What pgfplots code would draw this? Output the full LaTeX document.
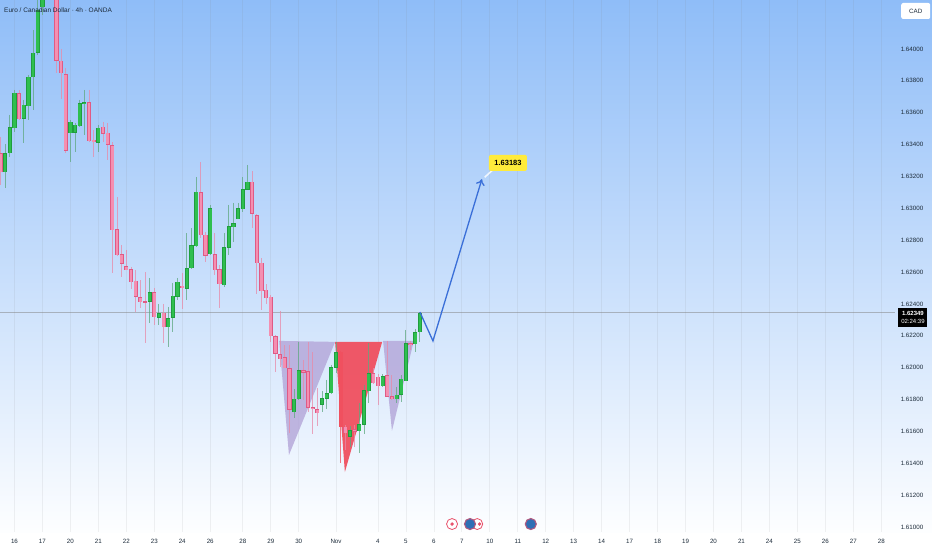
\documentclass[border=0pt]{standalone}
\usepackage{fontspec}
\setmainfont{Liberation Sans}
\usepackage{pgfplots}
\usepackage{pgfplotstable}
\pgfplotsset{compat=1.18}
\usetikzlibrary{arrows.meta}

\definecolor{bullfill}{HTML}{2FBF4F}
\definecolor{bulledge}{HTML}{1F9E3E}
\definecolor{bullwick}{HTML}{5FA880}
\definecolor{bearfill}{HTML}{F48FB1}
\definecolor{bearedge}{HTML}{E05A85}
\definecolor{bearwick}{HTML}{E88AA8}
\definecolor{harmpurple}{HTML}{B3A5D8}
\definecolor{harmred}{HTML}{F0505F}
\definecolor{arrowblue}{HTML}{3A6FD8}
\definecolor{calloutyellow}{HTML}{FFEB3B}
\definecolor{evred}{HTML}{E8506A}
\definecolor{evblue}{HTML}{2F6FB5}
\definecolor{labelink}{HTML}{1C2B3A}
\definecolor{bgtop}{HTML}{8FBDF8}
\definecolor{bgbottom}{HTML}{FDFEFF}

% 4h candles, EUR/CAD: bar index, open, high, low, close
\pgfplotstableread{
i o h l c
1 1.63228 1.63404 1.63128 1.63347
2 1.63347 1.63586 1.63322 1.63511
3 1.63504 1.63743 1.63479 1.63724
5 1.63561 1.63680 1.63410 1.63649
6 1.63642 1.63837 1.63554 1.63824
7 1.63824 1.64119 1.63617 1.63975
8 1.63975 1.64350 1.63960 1.64245
9 1.64264 1.64450 1.64213 1.64400
15 1.63473 1.63554 1.63291 1.63542
16 1.63473 1.63536 1.63354 1.63523
17 1.63517 1.63680 1.63511 1.63661
18 1.63655 1.63743 1.63460 1.63667
21 1.63410 1.63523 1.63354 1.63504
32 1.62418 1.62563 1.62280 1.62475
34 1.62318 1.62400 1.62268 1.62343
36 1.62255 1.62381 1.62130 1.62312
37 1.62312 1.62532 1.62224 1.62450
38 1.62444 1.62563 1.62425 1.62538
40 1.62500 1.62845 1.62425 1.62625
41 1.62625 1.62876 1.62620 1.62770
42 1.62764 1.63197 1.62760 1.63103
45 1.62713 1.63021 1.62710 1.63002
48 1.62519 1.62845 1.62506 1.62757
49 1.62757 1.63021 1.62707 1.62889
50 1.62883 1.63034 1.62789 1.62908
51 1.62933 1.63034 1.62930 1.63002
52 1.62996 1.63197 1.62977 1.63122
53 1.63115 1.63272 1.63112 1.63165
63 1.61722 1.61866 1.61684 1.61804
64 1.61804 1.62162 1.61800 1.61986
69 1.61772 1.61854 1.61722 1.61810
70 1.61810 1.61923 1.61741 1.61841
71 1.61841 1.62017 1.61838 1.62004
72 1.62004 1.62162 1.61967 1.62098
75 1.61571 1.61634 1.61502 1.61609
77 1.61603 1.61778 1.61465 1.61647
78 1.61647 1.61891 1.61584 1.61860
79 1.61854 1.62155 1.61778 1.61967
82 1.61885 1.61960 1.61879 1.61948
85 1.61804 1.61879 1.61778 1.61829
86 1.61829 1.61954 1.61785 1.61929
87 1.61916 1.62237 1.61916 1.62155
89 1.62149 1.62243 1.62098 1.62224
90 1.62224 1.62349 1.62162 1.62343
}\bulltable

\pgfplotstableread{
i o h l c
0 1.63347 1.63448 1.63147 1.63228
4 1.63724 1.63743 1.63554 1.63561
12 1.64400 1.64450 1.63849 1.63925
13 1.63925 1.64000 1.63686 1.63849
14 1.63843 1.63881 1.63347 1.63366
19 1.63667 1.63743 1.63416 1.63423
20 1.63429 1.63492 1.63322 1.63416
22 1.63511 1.63542 1.63416 1.63467
23 1.63473 1.63536 1.63303 1.63398
24 1.63398 1.63416 1.62594 1.62864
25 1.62870 1.63071 1.62700 1.62707
26 1.62713 1.62770 1.62569 1.62651
27 1.62638 1.62739 1.62610 1.62613
28 1.62619 1.62632 1.62494 1.62538
29 1.62544 1.62613 1.62349 1.62444
30 1.62444 1.62550 1.62374 1.62412
31 1.62418 1.62600 1.62155 1.62412
33 1.62475 1.62500 1.62268 1.62318
35 1.62343 1.62400 1.62155 1.62255
39 1.62513 1.62594 1.62368 1.62500
43 1.63103 1.63291 1.62814 1.62833
44 1.62833 1.62852 1.62663 1.62701
46 1.62713 1.62845 1.62582 1.62613
47 1.62619 1.62644 1.62374 1.62525
54 1.63165 1.63234 1.62876 1.62965
55 1.62958 1.62962 1.62462 1.62657
56 1.62657 1.62688 1.62362 1.62481
57 1.62488 1.62525 1.62400 1.62437
58 1.62444 1.62456 1.62162 1.62199
59 1.62199 1.62205 1.61973 1.62092
60 1.62086 1.62356 1.62004 1.62055
61 1.62067 1.62142 1.61995 1.61998
62 1.61998 1.62142 1.61590 1.61741
65 1.61986 1.62048 1.61797 1.61973
66 1.61979 1.62162 1.61722 1.61753
67 1.61753 1.62098 1.61584 1.61741
68 1.61741 1.61872 1.61634 1.61716
74 1.61628 1.61640 1.61484 1.61590
76 1.61615 1.61640 1.61502 1.61597
80 1.61967 1.61998 1.61898 1.61904
81 1.61942 1.61960 1.61766 1.61885
83 1.61954 1.62168 1.61816 1.61822
84 1.61822 1.61954 1.61797 1.61804
88 1.62155 1.62168 1.62111 1.62142
}\beartable

% the long bar at the pattern low, drawn in the triangle's red
\pgfplotstableread{
i o h l c
73 1.62098 1.62105 1.61402 1.61628
}\redtable

\pgfplotsset{
  wick/.style={draw=none, mark=none, forget plot, error bars/.cd, y dir=minus, y explicit, error mark=none,
    error bar style={line width=0.9pt, color=#1, opacity=0.75}},
  body/.style 2 args={draw=none, mark=none, forget plot, error bars/.cd, y dir=both, y explicit, error mark=none,
    error bar style={line width=#1, color=#2}},
}

\begin{document}
\begin{tikzpicture}
\path[use as bounding box] (0,-18pt) rectangle (932pt,532pt);
\begin{axis}[
scale only axis,
width=932pt, height=532pt,
xmin=-0.107, xmax=199.89,
ymin=1.60969, ymax=1.64307,
axis line style={draw=none},
major tick length=0pt,
font=\fontsize{6.2}{8}\selectfont,
axis background/.style={shade, top color=bgtop, bottom color=bgbottom},
xmajorgrids,
grid style={line width=0.7pt, color=gray, opacity=0.11},
xtick={3,9,15,21,27,33,39,45,52,58,64,72,81,87,93,99,105,111,117,123,129,135,141,147,153,159,165,171,177,183,189},
xticklabels={16,17,20,21,22,23,24,26,28,29,30,Nov,4,5,6,7,10,11,12,13,14,17,18,19,20,21,24,25,26,27,28},
xticklabel style={color=labelink, yshift=-4pt},
ytick={1.61,1.612,1.614,1.616,1.618,1.62,1.622,1.624,1.626,1.628,1.63,1.632,1.634,1.636,1.638,1.64},
yticklabels={1.61000,1.61200,1.61400,1.61600,1.61800,1.62000,1.62200,1.62400,1.62600,1.62800,1.63000,1.63200,1.63400,1.63600,1.63800,1.64000},
yticklabel pos=right,
yticklabel style={anchor=center, xshift=-20pt, color=labelink},
]

% harmonic pattern triangles
\addplot[fill=harmpurple, draw=none, fill opacity=0.8, forget plot] coordinates {(59.8,1.62168) (71.8,1.62162) (61.9,1.61452)} --cycle;
\addplot[fill=harmred, draw=none, fill opacity=0.95, forget plot] coordinates {(71.8,1.62162) (81.9,1.62162) (73.9,1.61345)} --cycle;
\addplot[fill=harmpurple, draw=none, fill opacity=0.8, forget plot] coordinates {(82.1,1.62168) (88.7,1.62168) (84,1.61603)} --cycle;

% last price line
\addplot[color=gray, opacity=0.5, line width=1pt, forget plot] coordinates {(-1,1.62349) (191.95,1.62349)};

% wicks
\addplot[wick=bullwick] table[x=i, y=h, y error minus expr={\thisrow{h}-\thisrow{l}}] {\bulltable};
\addplot[wick=bearwick] table[x=i, y=h, y error minus expr={\thisrow{h}-\thisrow{l}}] {\beartable};
\addplot[wick=harmred] table[x=i, y=h, y error minus expr={\thisrow{h}-\thisrow{l}}] {\redtable};

% bodies: edge, then fill a little shorter
\addplot[body={4.2pt}{bulledge}] table[x=i, y expr={(\thisrow{o}+\thisrow{c})/2}, y error expr={abs(\thisrow{c}-\thisrow{o})/2+0.00002}] {\bulltable};
\addplot[body={2.6pt}{bullfill}] table[x=i, y expr={(\thisrow{o}+\thisrow{c})/2}, y error expr={max(abs(\thisrow{c}-\thisrow{o})/2-0.00003,0)}] {\bulltable};
\addplot[body={4.2pt}{bearedge}] table[x=i, y expr={(\thisrow{o}+\thisrow{c})/2}, y error expr={abs(\thisrow{c}-\thisrow{o})/2+0.00002}] {\beartable};
\addplot[body={2.6pt}{bearfill}] table[x=i, y expr={(\thisrow{o}+\thisrow{c})/2}, y error expr={max(abs(\thisrow{c}-\thisrow{o})/2-0.00003,0)}] {\beartable};
\addplot[body={4.2pt}{harmred}] table[x=i, y expr={(\thisrow{o}+\thisrow{c})/2}, y error expr={abs(\thisrow{c}-\thisrow{o})/2+0.00002}] {\redtable};

% projected path
\addplot[color=arrowblue, line width=1.3pt, mark=none, sharp plot, forget plot, -{To[length=6pt,width=9pt]}]
  coordinates {(90,1.62349) (92.8,1.62168) (103.3,1.63183)};
\addplot[color=white, line width=1.6pt, opacity=0.8, forget plot] coordinates {(103.9,1.63195) (106.1,1.63253)};

% economic events
\addplot[only marks, mark=*, mark size=5.5pt, mark options={draw=evred, fill=white, line width=0.8pt}, forget plot]
  coordinates {(96.9,1.61019) (102.3,1.61019)};
\addplot[only marks, mark=*, mark size=1.5pt, mark options={draw=evred, fill=evred}, forget plot]
  coordinates {(96.9,1.61019) (102.8,1.61019)};
\addplot[only marks, mark=*, mark size=5.5pt, mark options={draw=evred!70!evblue, fill=evblue, line width=1.1pt}, forget plot]
  coordinates {(100.75,1.61019) (113.8,1.61019)};

% labels
\node[anchor=west, inner sep=0pt, text=labelink, font=\fontsize{6.5}{8}\selectfont] at (rel axis cs:0.0043,0.9812) {Euro / Canadian Dollar · 4h · OANDA};
\node[fill=calloutyellow, rounded corners=2pt, minimum width=38pt, minimum height=16pt, inner sep=0pt, font=\bfseries\fontsize{7.5}{9}\selectfont] at (axis cs:108.9,1.63285) {1.63183};
\node[fill=black, text=white, minimum width=29pt, minimum height=19pt, inner sep=0pt, align=center, font=\fontsize{6}{8.5}\selectfont] at (axis cs:195.8,1.62315) {\textbf{1.62349}\\02:24:39};
\node[fill=white, rounded corners=2pt, minimum width=29pt, minimum height=16pt, inner sep=0pt, text=labelink, font=\fontsize{6.2}{8}\selectfont] at (axis cs:196.4,1.64238) {CAD};

\end{axis}
\end{tikzpicture}
\end{document}
